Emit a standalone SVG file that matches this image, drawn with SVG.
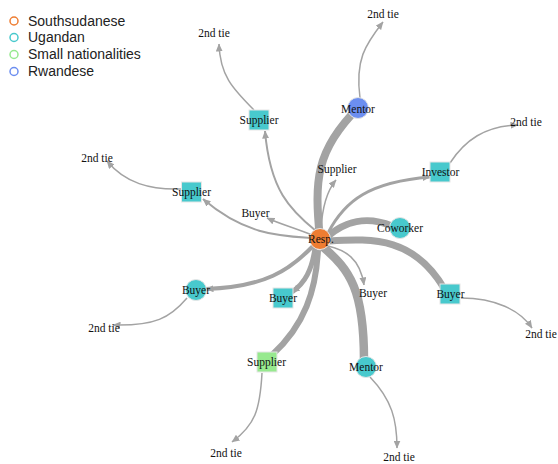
<svg xmlns="http://www.w3.org/2000/svg" width="558" height="464" viewBox="0 0 558 464">
<style>
.e{fill:none;stroke:#a3a3a3;stroke-linecap:butt}
.t{stroke-width:1.5;marker-end:url(#a)}
.n{stroke:#e6e6e6;stroke-width:1}
.ss{fill:#ee7d32}.ug{fill:#48c9cd}.sm{fill:#97e98f}.rw{fill:#6c8ef0}
text{font-family:"Liberation Serif","Times New Roman",serif;font-size:11.5px;fill:#111;text-anchor:middle}
.lg{font-family:"Liberation Sans",Arial,sans-serif;font-size:14px;text-anchor:start;fill:#222}
.lc{fill:none;stroke-width:1.5}
</style>
<defs>
<marker id="a" markerWidth="8" markerHeight="7" refX="7.5" refY="3.5" orient="auto" markerUnits="userSpaceOnUse"><path d="M0,0 L8,3.5 L0,7 z" fill="#a3a3a3"/></marker>
</defs>
<rect width="558" height="464" fill="#fff"/>
<g id="legend">
<circle class="lc" cx="14" cy="21" r="4" stroke="#ee7d32"/><text class="lg" x="28" y="25.5">Southsudanese</text>
<circle class="lc" cx="14" cy="37.5" r="4" stroke="#48c9cd"/><text class="lg" x="28" y="42">Ugandan</text>
<circle class="lc" cx="14" cy="54.5" r="4" stroke="#97e98f"/><text class="lg" x="28" y="59">Small nationalities</text>
<circle class="lc" cx="14" cy="71.5" r="4" stroke="#6c8ef0"/><text class="lg" x="28" y="76">Rwandese</text>
</g>
<g id="edges">
<path class="e" stroke-width="8" d="M320,239 C314,180 316,150 358,108"/>
<path class="e" stroke-width="2" marker-end="url(#a)" d="M316,231 C290,210 270,190 265,131"/>
<path class="e" stroke-width="2" marker-end="url(#a)" d="M311,238 C280,236 245,235 203,199"/>
<path class="e t" d="M312,235 C295,228 280,224 267,218"/>
<path class="e t" d="M321,230 C322,210 326,192 336,180"/>
<path class="e" stroke-width="3" marker-end="url(#a)" d="M328,233 C345,200 370,182 430,177"/>
<path class="e" stroke-width="7" d="M328,236 C345,222 365,215 392,226"/>
<path class="e" stroke-width="7" d="M329,241 C375,238 415,238 445,290"/>
<path class="e t" d="M328,246 C345,250 360,258 364,285"/>
<path class="e" stroke-width="8.5" d="M323,247 C350,270 364,290 364,360"/>
<path class="e" stroke-width="5" marker-end="url(#a)" d="M315,248 C312,270 305,283 292,292"/>
<path class="e" stroke-width="4" marker-end="url(#a)" d="M313,246 C290,270 265,287 206,289"/>
<path class="e" stroke-width="6" d="M318,250 C316,290 305,325 272,355"/>
<path class="e t" d="M254,110 C232,88 220,75 219,44"/>
<path class="e t" d="M360,98 C355,60 365,45 383,22"/>
<path class="e t" d="M450,163 C465,140 485,126 518,125"/>
<path class="e t" d="M181,189 C150,190 125,183 107,161"/>
<path class="e t" d="M187,298 C170,318 155,326 113,325"/>
<path class="e t" d="M461,298 C495,298 520,310 532,328"/>
<path class="e t" d="M370,377 C392,400 397,420 397,448"/>
<path class="e t" d="M262,373 C260,410 255,425 232,442"/>
</g>
<g id="resp"><circle class="n ss" cx="320" cy="239" r="10.5"/><text x="321" y="243">Resp.</text></g>
<g id="mentor1"><circle class="n rw" cx="358" cy="108" r="10.5"/><text x="358" y="112.5">Mentor</text></g>
<g id="supplier1"><rect class="n ug" x="249" y="110" width="20" height="20"/><text x="259" y="124">Supplier</text></g>
<g id="supplier2"><rect class="n ug" x="181.5" y="182" width="20" height="20"/><text x="191.5" y="196">Supplier</text></g>
<g id="investor"><rect class="n ug" x="430" y="162" width="20" height="20"/><text x="440.5" y="176">Investor</text></g>
<g id="coworker"><circle class="n ug" cx="400" cy="228" r="10.5"/><text x="400" y="232">Coworker</text></g>
<g id="buyer1"><rect class="n ug" x="440" y="284" width="20" height="20"/><text x="450.5" y="298">Buyer</text></g>
<g id="mentor2"><circle class="n ug" cx="366" cy="367" r="10.5"/><text x="366" y="371">Mentor</text></g>
<g id="buyer2"><rect class="n ug" x="273" y="288" width="20" height="20"/><text x="283" y="302">Buyer</text></g>
<g id="buyer3"><circle class="n ug" cx="196" cy="290" r="10.5"/><text x="196" y="294">Buyer</text></g>
<g id="supplier3"><rect class="n sm" x="257" y="352" width="20" height="20"/><text x="266.5" y="366">Supplier</text></g>
<g id="lbuyer1"><text x="255.5" y="217">Buyer</text></g>
<g id="lsupplier"><text x="337" y="173">Supplier</text></g>
<g id="lbuyer2"><text x="373" y="297">Buyer</text></g>
<g id="tie1"><text x="214" y="37">2nd tie</text></g>
<g id="tie2"><text x="383" y="18">2nd tie</text></g>
<g id="tie3"><text x="526" y="126">2nd tie</text></g>
<g id="tie4"><text x="97" y="162">2nd tie</text></g>
<g id="tie5"><text x="104" y="332">2nd tie</text></g>
<g id="tie6"><text x="541" y="338">2nd tie</text></g>
<g id="tie7"><text x="399" y="461">2nd tie</text></g>
<g id="tie8"><text x="226" y="457">2nd tie</text></g>
</svg>
